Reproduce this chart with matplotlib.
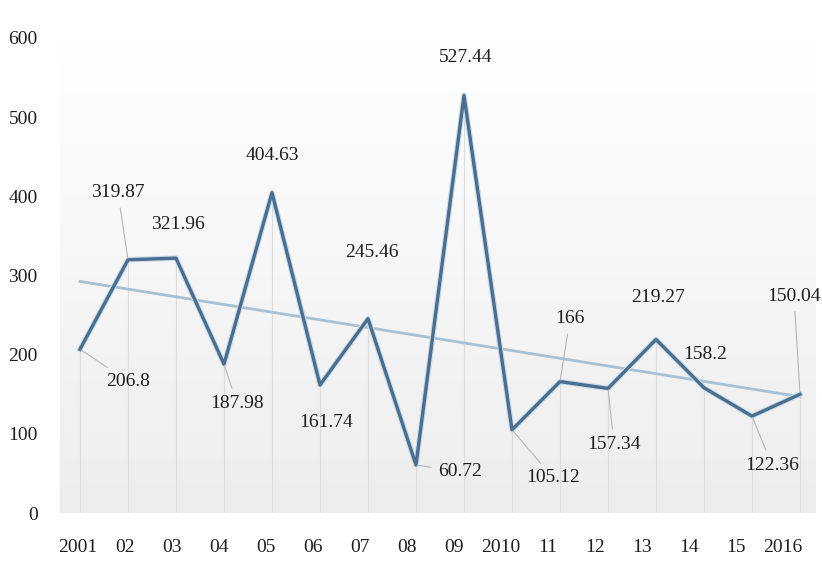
import numpy as np
import matplotlib
matplotlib.use("Agg")
from matplotlib import pyplot as plt
import matplotlib.patheffects as pe

years = ["2001", "02", "03", "04", "05", "06", "07", "08",
         "09", "2010", "11", "12", "13", "14", "15", "2016"]
values = [206.8, 319.87, 321.96, 187.98, 404.63, 161.74, 245.46, 60.72,
          527.44, 105.12, 166, 157.34, 219.27, 158.2, 122.36, 150.04]
value_labels = ["206.8", "319.87", "321.96", "187.98", "404.63", "161.74", "245.46", "60.72",
                "527.44", "105.12", "166", "157.34", "219.27", "158.2", "122.36", "150.04"]

# label offsets in pixels (dx, dy) and whether a leader line is drawn
label_offsets = [(48, -32), (-10, 67), (2, 34), (13, -39), (0, 37), (6, -38), (4, 66), (44, -7),
                 (2, 38), (41, -48), (10, 63), (6, -56), (2, 42), (1, 33), (20, -49), (-6, 98)]
leaders = [True, True, False, True, False, False, False, True,
           False, True, True, True, False, False, True, True]

FONT = ["Liberation Serif", "DejaVu Serif"]
plt.rcParams["font.family"] = FONT

fig = plt.figure(figsize=(8.22, 5.78), dpi=100)
ax = fig.add_axes([60 / 822, 65 / 578, 755 / 822, 475 / 578])

x = np.arange(len(values))
ax.set_xlim(-20 / 48, 15 + 15 / 48)
ax.set_ylim(0, 600)

# soft gradient background
grad = np.linspace(0, 1, 256).reshape(-1, 1)
cmap = matplotlib.colors.LinearSegmentedColormap.from_list("bg", ["#ededed", "#ffffff"])
ax.imshow(grad, aspect="auto", cmap=cmap, origin="lower",
          extent=[ax.get_xlim()[0], ax.get_xlim()[1], 0, 600], zorder=0)

# drop lines
ax.vlines(x, 0, values, color="#dcdcdc", lw=0.8, zorder=1)

# trend line
coef = np.polyfit(x, values, 1)
ax.plot(x, np.polyval(coef, x), color="#a7c0d4", lw=2, zorder=2)

ax.plot(x, values, color="#4a6e8e", lw=2.4, zorder=3,
        path_effects=[pe.Stroke(linewidth=4, foreground="#c9dbea"), pe.Normal()])

for i, (v, txt) in enumerate(zip(values, value_labels)):
    dx, dy = label_offsets[i]
    kw = {}
    if leaders[i]:
        kw["arrowprops"] = dict(arrowstyle="-", color="#b5b5b5", lw=0.8, shrinkA=3, shrinkB=1)
    ax.annotate(txt, (x[i], v), xytext=(dx, dy), textcoords="offset pixels",
                ha="center", va="center", fontsize=14, color="#1e1e1e", zorder=5, **kw)

ax.set_xticks(x * 47 / 48 - 2 / 48)
ax.set_xticklabels(years, fontsize=14)
ax.set_yticks(np.arange(0, 601, 100))
ax.set_yticklabels([str(t) for t in range(0, 601, 100)], fontsize=14)
ax.tick_params(axis="both", length=0, colors="#1e1e1e")
ax.tick_params(axis="x", pad=19)
ax.tick_params(axis="y", pad=16)
for s in ax.spines.values():
    s.set_visible(False)

fig.savefig("out.png", dpi=100)
